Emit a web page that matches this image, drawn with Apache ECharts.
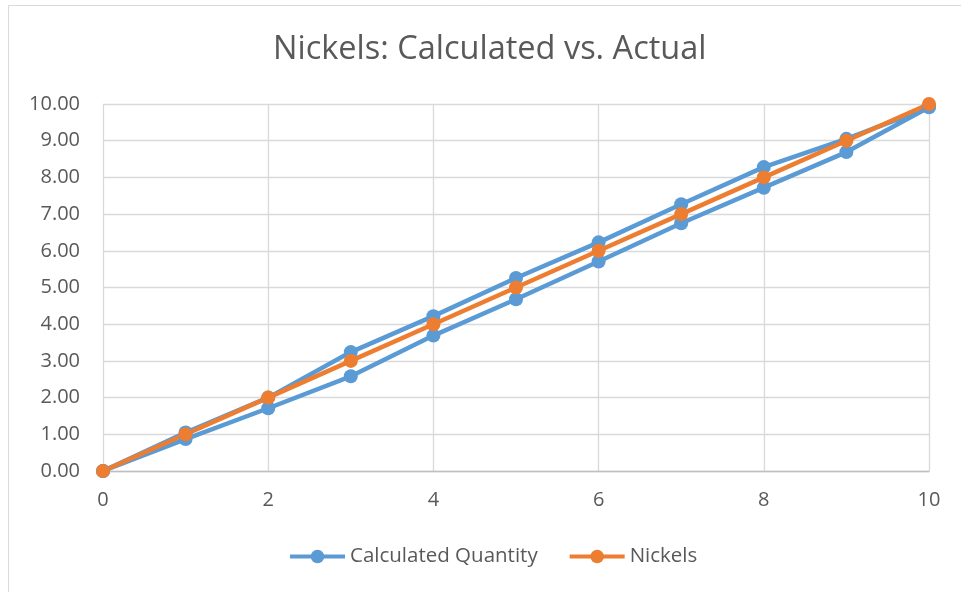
<!DOCTYPE html>
<html>
<head>
<meta charset="utf-8">
<script src="https://cdn.jsdelivr.net/npm/echarts@6/dist/echarts.min.js"></script>
<style>
  html, body { margin: 0; padding: 0; background: #fff; }
  #chart { width: 961px; height: 592px; }
</style>
</head>
<body>
<div id="chart"></div>
<script>
// Coin counts along the x axis
const counts = [0, 1, 2, 3, 4, 5, 6, 7, 8, 9, 10];
// Calculated quantity: lower and upper estimate runs
const calcLow  = [0, 0.87, 1.71, 2.58, 3.69, 4.68, 5.71, 6.75, 7.72, 8.69, 9.91];
const calcHigh = [0, 1.05, 2.00, 3.24, 4.22, 5.26, 6.23, 7.27, 8.28, 9.05, 9.93];
// Actual nickel count
const nickels  = [0, 1, 2, 3, 4, 5, 6, 7, 8, 9, 10];
const yTicks = [0, 1, 2, 3, 4, 5, 6, 7, 8, 9, 10];

// The calculated series runs up the low estimates and back down the high ones
const calcPath = counts.map((x, i) => [x, calcLow[i]])
  .concat(counts.slice().reverse().map((x, i) => [x, calcHigh[counts.length - 1 - i]]));
const nickelPath = counts.map((x, i) => [x, nickels[i]]);

const FONT = "'Open Sans', 'Noto Sans', sans-serif";
const TEXT = '#595959';

const chart = echarts.init(document.getElementById('chart'), null, { renderer: 'canvas' });
chart.setOption({
  backgroundColor: '#fff',
  animation: false,
  graphic: [{
    type: 'rect',
    shape: { x: 8.5, y: 5.5, width: 1000, height: 1000 },
    style: { fill: 'none', stroke: '#D9D9D9', lineWidth: 1 },
    silent: true
  }],
  title: {
    text: 'Nickels: Calculated vs. Actual',
    left: 268,
    top: 28,
    textStyle: { fontFamily: FONT, fontSize: 32.5, fontWeight: 'normal', color: TEXT }
  },
  grid: { left: 103, right: 32, top: 104, bottom: 121, containLabel: false },
  xAxis: {
    type: 'value',
    min: 0, max: 10, interval: 2,
    axisLine: { show: true, lineStyle: { color: '#BFBFBF', width: 1.3 } },
    axisTick: { show: false },
    splitLine: { show: true, lineStyle: { color: '#D9D9D9', width: 1.3 } },
    axisLabel: { fontFamily: FONT, fontSize: 20, color: TEXT, margin: 19 }
  },
  yAxis: {
    type: 'value',
    min: yTicks[0], max: yTicks[yTicks.length - 1], interval: 1,
    axisLine: { show: false },
    axisTick: { show: false },
    splitLine: { show: true, lineStyle: { color: '#D9D9D9', width: 1.3 } },
    axisLabel: { fontFamily: FONT, fontSize: 20, color: TEXT, margin: 23,
                 formatter: v => v.toFixed(2) }
  },
  legend: {
    bottom: 20,
    left: 283,
    itemWidth: 55, itemHeight: 17, itemGap: 30,
    lineStyle: { width: 4 },
    textStyle: { fontFamily: FONT, fontSize: 20.5, color: TEXT },
    data: ['Calculated Quantity', 'Nickels']
  },
  series: [
    {
      name: 'Calculated Quantity',
      type: 'line',
      data: calcPath,
      symbol: 'circle', symbolSize: 14,
      lineStyle: { color: '#5B9BD5', width: 4.5 },
      itemStyle: { color: '#5B9BD5' }
    },
    {
      name: 'Nickels',
      type: 'line',
      data: nickelPath,
      symbol: 'circle', symbolSize: 14,
      lineStyle: { color: '#ED7D31', width: 4.5 },
      itemStyle: { color: '#ED7D31' }
    }
  ]
});
</script>
</body>
</html>
